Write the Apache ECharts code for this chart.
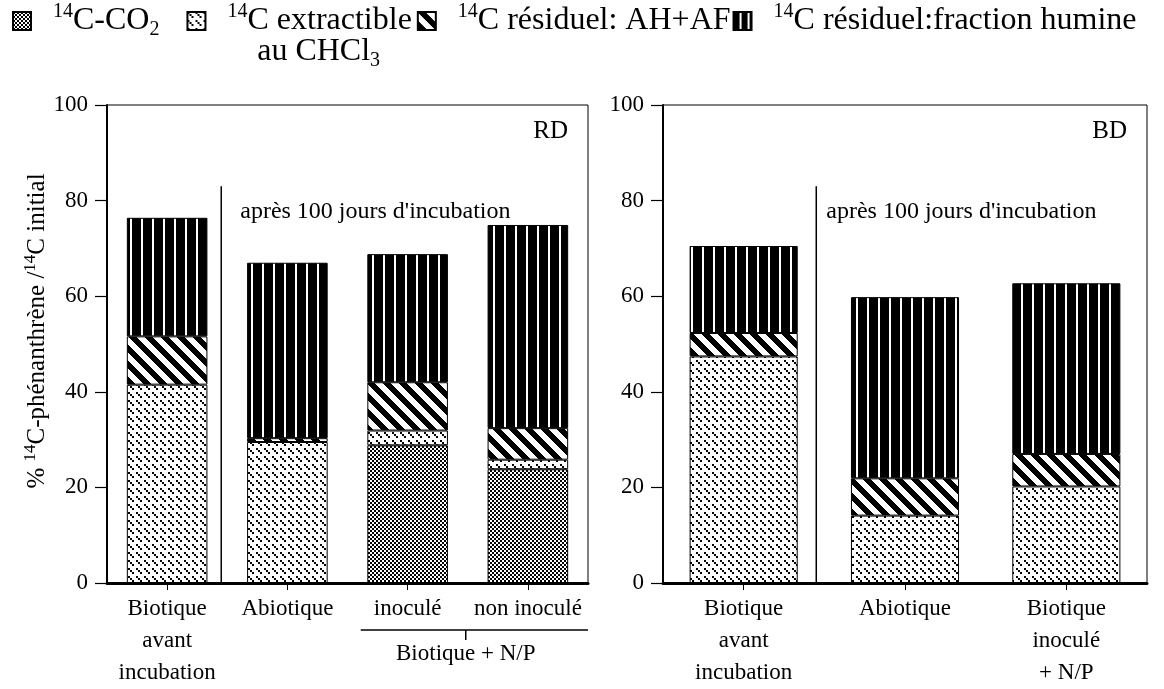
<!DOCTYPE html>
<html><head><meta charset="utf-8">
<script src="https://cdn.jsdelivr.net/npm/echarts@6.0.0/dist/echarts.min.js"></script>
<style>html,body{margin:0;padding:0;background:#fff}#c{width:1164px;height:689px}</style>
</head><body><div id="c"></div>
<script>
// ---------- data ----------
const seriesNames = ['14C-CO2', '14C extractible au CHCl3', '14C résiduel: AH+AF', '14C résiduel:fraction humine'];
const categoriesRD = ['Biotique\navant\nincubation', 'Abiotique', 'inoculé', 'non inoculé'];
const co2RD      = [0, 0, 28.8, 23.8];
const extractRD  = [41.5, 29.5, 3.1, 2.0];
const ahafRD     = [10.1, 0.8, 10.1, 6.6];
const humineRD   = [24.8, 36.7, 26.8, 42.5];
const categoriesBD = ['Biotique\navant\nincubation', 'Abiotique', 'Biotique\ninoculé\n+ N/P'];
const co2BD      = [0, 0, 0];
const extractBD  = [47.4, 14.1, 20.2];
const ahafBD     = [4.9, 7.8, 6.8];
const humineBD   = [18.2, 37.9, 35.7];
const yMin = 0, yMax = 100, yStep = 20;
const panelLabels = ['RD', 'BD'];
const periodText = "après 100 jours d'incubation";
const groupText = 'Biotique + N/P';
// legend label pieces: superscript, main text, subscript
const legendSup  = ['14', '14', '14', '14'];
const legendMain = ['C-CO', 'C extractible', 'C résiduel: AH+AF', 'C résiduel:fraction humine'];
const legendSub  = ['2', '', '', ''];
const legendLine2 = ['au CHCl', '3'];

// ---------- styles ----------
const FONT = 'Liberation Serif';
const LEG_SIZE = 32, LEG_SMALL = 20;
function makePattern(w, h, draw) {
  const c = document.createElement('canvas');
  c.width = w; c.height = h;
  const g = c.getContext('2d');
  g.fillStyle = '#fff'; g.fillRect(0, 0, w, h);
  g.fillStyle = '#000';
  draw(g, w, h);
  return { image: c, repeat: 'repeat' };
}
const patCO2 = makePattern(4, 4, g => { g.fillRect(0, 0, 2, 2); g.fillRect(2, 2, 2, 2); });
const patExtract = makePattern(8, 8, g => { g.fillRect(0, 0, 2, 2); g.fillRect(2, 2, 2, 2); g.fillRect(4, 4, 2, 2); });
const patAHAF = makePattern(16, 16, (g, w, h) => {
  for (let y = 0; y < h; y++) for (let x = 0; x < w; x++) {
    if (((x - y) % 16 + 16) % 16 < 8) g.fillRect(x, y, 1, 1);
  }
});
const patHumine = makePattern(8, 2, g => { g.fillRect(0, 0, 6, 2); });
const patHumineBar = makePattern(11, 2, g => { g.fillRect(0, 0, 9, 2); });
const patterns = [patCO2, patExtract, patAHAF, patHumineBar];

const legendRich = {
  sup: { fontFamily: FONT, fontSize: LEG_SMALL, lineHeight: LEG_SMALL, verticalAlign: 'top', color: '#000' },
  t:   { fontFamily: FONT, fontSize: LEG_SIZE, lineHeight: 38, color: '#000' },
  sub: { fontFamily: FONT, fontSize: LEG_SMALL, lineHeight: LEG_SMALL, verticalAlign: 'bottom', color: '#000' }
};
const legendFmt = seriesNames.map((n, i) =>
  '{sup|' + legendSup[i] + '}{t|' + legendMain[i] + '}' + (legendSub[i] ? '{sub|' + legendSub[i] + '}' : ''));

// chain legend entries left to right from measured text widths
const mctx = document.createElement('canvas').getContext('2d');
const tw = (s, size) => { mctx.font = size + 'px "' + FONT + '"'; return mctx.measureText(s).width; };
const ICON = 18, ICON_GAP = 22, GAP_AFTER = [28, 6, 3, 0];
const legendLefts = [], legendTextMid = [];
{
  let x = 12;
  seriesNames.forEach((n, i) => {
    legendLefts.push(x);
    const w = tw(legendSup[i], LEG_SMALL) + tw(legendMain[i], LEG_SIZE) + (legendSub[i] ? tw(legendSub[i], LEG_SMALL) : 0);
    const ts = x + ICON + ICON_GAP;
    legendTextMid.push(ts + w / 2);
    x = ts + w + GAP_AFTER[i];
  });
}

function barSeries(name, idx, data, gi, stack) {
  return {
    type: 'bar', name: name, stack: stack, data: data,
    xAxisIndex: gi, yAxisIndex: gi, barWidth: '67%',
    itemStyle: { color: patterns[idx], borderColor: '#000', borderWidth: 1 },
    emphasis: { disabled: true }
  };
}

const gridCommon = { show: true, borderColor: '#000', borderWidth: 1, backgroundColor: 'transparent', containLabel: false, outerBoundsMode: 'none' };
function xAxisDef(gi, cats) {
  return {
    type: 'category', gridIndex: gi, data: cats,
    axisLine: { show: true, lineStyle: { color: '#000', width: 3 } },
    axisTick: { show: true, alignWithLabel: true, length: 7, lineStyle: { color: '#000', width: 1 } },
    axisLabel: { interval: 0, color: '#000', fontFamily: FONT, fontSize: 23, lineHeight: 32, margin: 10 },
    splitLine: { show: false }
  };
}
function yAxisDef(gi, withName) {
  const ax = {
    type: 'value', gridIndex: gi, min: yMin, max: yMax, interval: yStep,
    axisLine: { show: true, lineStyle: { color: '#000', width: 2 } },
    axisTick: { show: true, inside: false, length: 12, lineStyle: { color: '#000', width: 1.2 } },
    axisLabel: { color: '#000', fontFamily: FONT, fontSize: 23, margin: 19 },
    splitLine: { show: false }
  };
  if (withName) {
    ax.name = '{n|% }{s|14}{n|C-phénanthrène /}{s|14}{n|C initial}';
    ax.nameLocation = 'middle';
    ax.nameRotate = 90;
    ax.nameGap = 41;
    ax.nameTextStyle = {
      color: '#000', fontFamily: FONT, fontSize: 25, padding: [0, 0, 0, 26],
      rich: {
        n: { fontFamily: FONT, fontSize: 25, lineHeight: 30, color: '#000' },
        s: { fontFamily: FONT, fontSize: 17, lineHeight: 17, verticalAlign: 'top', color: '#000' }
      }
    };
  }
  return ax;
}

const chart = echarts.init(document.getElementById('c'), null, { renderer: 'canvas' });
const option = {
  animation: false,
  backgroundColor: '#fff',
  legend: seriesNames.map((n, i) => ({
    data: [{ name: n, itemStyle: i === 3 ? { color: patHumine } : undefined }],
    left: legendLefts[i], top: 2, padding: 0, orient: 'horizontal',
    itemWidth: ICON, itemHeight: ICON, selectedMode: false, icon: 'rect',
    formatter: () => legendFmt[i],
    textStyle: { color: '#000', fontFamily: FONT, fontSize: LEG_SIZE, padding: [0, 0, 0, ICON_GAP - 5], rich: legendRich }
  })),
  grid: [
    Object.assign({ left: 107, right: 576, top: 105, bottom: 106 }, gridCommon),
    Object.assign({ left: 663, right: 17, top: 105, bottom: 106 }, gridCommon)
  ],
  xAxis: [xAxisDef(0, categoriesRD), xAxisDef(1, categoriesBD)],
  yAxis: [yAxisDef(0, true), yAxisDef(1, false)],
  series: [
    barSeries(seriesNames[0], 0, co2RD, 0, 'rd'),
    barSeries(seriesNames[1], 1, extractRD, 0, 'rd'),
    barSeries(seriesNames[2], 2, ahafRD, 0, 'rd'),
    barSeries(seriesNames[3], 3, humineRD, 0, 'rd'),
    barSeries(seriesNames[0], 0, co2BD, 1, 'bd'),
    barSeries(seriesNames[1], 1, extractBD, 1, 'bd'),
    barSeries(seriesNames[2], 2, ahafBD, 1, 'bd'),
    barSeries(seriesNames[3], 3, humineBD, 1, 'bd')
  ]
};
chart.setOption(option);

// ---------- annotations placed through the axes ----------
const px = (gi, cat, val) => chart.convertToPixel({ gridIndex: gi }, [cat, val]);
const txt = (x, y, text, extra) => ({
  type: 'text', x: x, y: y,
  style: Object.assign({ text: text, fill: '#000', font: '24px "' + FONT + '"', align: 'left', verticalAlign: 'middle' }, extra || {})
});
const graphics = [];
[0, 1].forEach(gi => {
  const c0 = px(gi, 0, 0), c1 = px(gi, 1, 0);
  const dx = c0[0] + 0.45 * (c1[0] - c0[0]);
  const yTop = px(gi, 0, 83)[1];
  graphics.push({ type: 'line', shape: { x1: dx, y1: yTop, x2: dx, y2: c0[1] }, style: { stroke: '#000', lineWidth: 1.5 } });
  graphics.push(txt(dx + (gi === 0 ? 19 : 10), px(gi, 0, 77.6)[1], periodText));
  const last = gi === 0 ? 3 : 2;
  const step = c1[0] - c0[0];
  graphics.push(txt(px(gi, last, 0)[0] + step / 2 - 20, px(gi, 0, 94.5)[1], panelLabels[gi], { align: 'right', font: '25px "' + FONT + '"' }));
});
// group bracket under "inoculé" / "non inoculé"
{
  const a = px(0, 2, 0), b = px(0, 3, 0);
  const step = b[0] - a[0];
  const yl = a[1] + 47;
  const mid = (a[0] + b[0]) / 2 - 2;
  graphics.push({ type: 'line', shape: { x1: a[0] - 0.39 * step, y1: yl, x2: b[0] + step / 2, y2: yl }, style: { stroke: '#000', lineWidth: 1.5 } });
  graphics.push({ type: 'line', shape: { x1: mid, y1: yl, x2: mid, y2: yl + 10 }, style: { stroke: '#000', lineWidth: 1.5 } });
  graphics.push(txt(mid, yl + 24, groupText, { align: 'center', font: '23px "' + FONT + '"' }));
}
// second line of the CHCl3 legend entry, centred under the first line
graphics.push({
  type: 'text', x: legendTextMid[1], y: 52,
  style: {
    text: '{t|' + legendLine2[0] + '}{sub|' + legendLine2[1] + '}', align: 'center', verticalAlign: 'middle',
    rich: legendRich, fill: '#000'
  }
});
chart.setOption({ graphic: graphics });
</script>
</body></html>
